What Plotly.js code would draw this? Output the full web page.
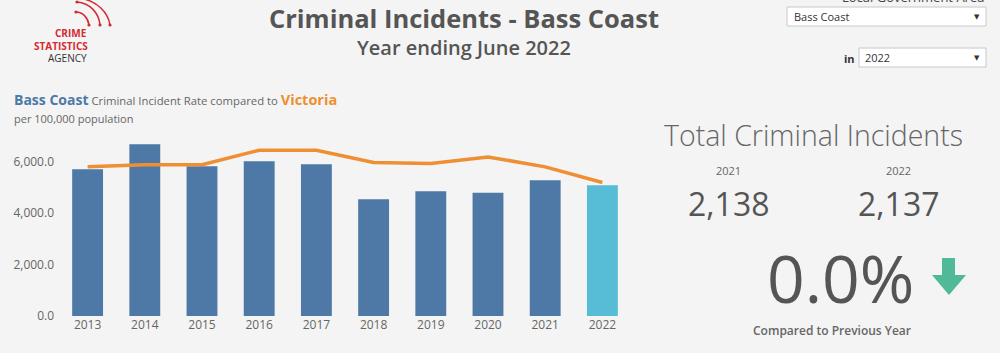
<!DOCTYPE html>
<html>
<head>
<meta charset="utf-8">
<script src="https://cdn.plot.ly/plotly-3.0.1.min.js"></script>
<style>
html,body{margin:0;padding:0;background:#f4f4f4;}
#chart{width:1000px;height:353px;}
</style>
</head>
<body>
<div id="chart"></div>
<script>
// ---- data ----
const years = ['2013','2014','2015','2016','2017','2018','2019','2020','2021','2022'];
const basscoastRate = [5709, 6680, 5825, 6019, 5903, 4544, 4854, 4789, 5282, 5087];
const victoriaRate = [5800, 5880, 5880, 6447, 6447, 5968, 5929, 6187, 5800, 5190];
const yTicks = [0, 2000, 4000, 6000];
const kpiYears = ['2021', '2022'];
const kpiTotals = [2138, 2137];

const W = 1000, H = 353;
const FONT = 'Open Sans, Noto Sans, DejaVu Sans, sans-serif';
const GREY = '#666666';
const selectedYear = '2022';
const barColors = years.map(y => y === selectedYear ? '#57bdd6' : '#4e79a7');

const pct = (kpiTotals[1] - kpiTotals[0]) / kpiTotals[0] * 100;
const fmt = n => n.toLocaleString('en-US');

const traces = [
  {type:'bar', x: years, y: basscoastRate, marker:{color: barColors}, width:0.54,
   hoverinfo:'x+y', xaxis:'x', yaxis:'y', showlegend:false},
  {type:'scatter', mode:'lines', x: years, y: victoriaRate,
   line:{color:'#ee8f33', width:3.5}, xaxis:'x', yaxis:'y', showlegend:false, hoverinfo:'x+y'},
  // overlay pixel-space subplot for decorations
  {type:'scatter', x:[0], y:[0], mode:'markers', marker:{opacity:0}, xaxis:'x2', yaxis:'y2',
   hoverinfo:'skip', showlegend:false}
];

function ann(text, x, y, size, color, opts) {
  return Object.assign({text: text, x: x, y: y, xref:'x2', yref:'y2', showarrow:false,
    xanchor:'center', yanchor:'middle',
    font:{family: FONT, size: size, color: color}}, opts || {});
}
function fw(size, color, weight) { return {family: FONT, size: size, color: color, weight: weight}; }

const annotations = [
  ann('Criminal Incidents - Bass Coast', 464, 17.5, 25.5, '#555555', {font:fw(25.5,'#555555',700)}),
  ann('Year ending June 2022', 464, 47, 20, '#555555', {font:fw(20,'#555555',600)}),
  // logo
  ann('CRIME', 89, 33, 10, '#d42a33', {xanchor:'right', font:fw(10,'#d42a33',700)}),
  ann('STATISTICS', 90, 46, 10, '#d42a33', {xanchor:'right', font:fw(10,'#d42a33',700)}),
  ann('AGENCY', 89, 58, 10, '#333333', {xanchor:'right'}),
  // subtitle of chart
  ann('<b><span style="color:#4e79a7;font-size:14px">Bass Coast</span></b> Criminal Incident Rate compared to <b><span style="color:#ee8f33;font-size:14.5px">Victoria</span></b>',
      12, 99, 11.3, GREY, {xanchor:'left'}),
  ann('per 100,000 population', 12, 118, 11, GREY, {xanchor:'left'}),
  // filters
  ann('Local Government Area', 986, 1, 13, '#444444', {xanchor:'right', yshift:4}),
  ann('Bass Coast', 792, 16.5, 11, '#333333', {xanchor:'left'}),
  ann('▼', 977, 16.5, 7, '#333333'),
  ann('<b>in</b>', 857, 58, 11, '#333333', {xanchor:'right'}),
  ann(selectedYear, 863, 57.5, 11, '#333333', {xanchor:'left'}),
  ann('▼', 977, 57.5, 7, '#333333'),
  // KPI
  ann('Total Criminal Incidents', 813, 135, 28.5, GREY, {font:fw(28.5,GREY,300)}),
  ann(kpiYears[0], 728, 170, 11, GREY),
  ann(kpiYears[1], 898, 170, 11, GREY),
  ann(fmt(kpiTotals[0]), 728, 203, 32, '#555555', {font:fw(32,'#555555',500)}),
  ann(fmt(kpiTotals[1]), 898, 203, 32, '#555555', {font:fw(32,'#555555',500)}),
  ann(Math.abs(pct).toFixed(1) + '%', 840, 277, 66, '#555555', {font:fw(66,'#555555',500)}),
  ann('Compared to Previous Year', 832, 330, 12, GREY, {font:fw(12,GREY,600)})
];

const red = '#d42a33';
const dot = (x, y) => ({type:'circle', xref:'x2', yref:'y2', x0:x-1.6, y0:y-1.6, x1:x+1.6, y1:y+1.6,
  fillcolor:red, line:{width:0}});
const shapes = [
  {type:'path', xref:'x2', yref:'y2', path:'M 84 -1 C 97 2, 108 12, 110 25', line:{color:red, width:1.5}},
  {type:'path', xref:'x2', yref:'y2', path:'M 77 2 C 90 3, 99 13, 100 25', line:{color:red, width:1.5}},
  {type:'path', xref:'x2', yref:'y2', path:'M 76 12 C 83 12, 88 18, 89 25', line:{color:red, width:1.5}},
  dot(77, 2), dot(76, 12), dot(89, 25), dot(100, 25), dot(110, 25),
  // dropdowns
  {type:'rect', xref:'x2', yref:'y2', x0:787, y0:7, x1:986, y1:26, fillcolor:'#ffffff', line:{color:'#c8c8c8', width:1}, layer:'below'},
  {type:'rect', xref:'x2', yref:'y2', x0:859, y0:48, x1:986, y1:67, fillcolor:'#ffffff', line:{color:'#c8c8c8', width:1}, layer:'below'},
  // down arrow
  {type:'path', xref:'x2', yref:'y2', path:'M 942 258 L 955 258 L 955 275 L 966 275 L 949 295 L 932 275 L 942 275 Z',
   fillcolor:'#50b997', line:{width:0}}
];

const layout = {
  width: W, height: H,
  margin:{l:0, r:0, t:0, b:0},
  paper_bgcolor:'#f4f4f4', plot_bgcolor:'rgba(0,0,0,0)',
  font:{family: FONT, color: GREY},
  showlegend:false,
  xaxis:{domain:[59/W, 631/W], anchor:'y', type:'category', showgrid:false, zeroline:false,
         showline:false, ticks:'', tickfont:{size:12, color:GREY}, fixedrange:true},
  yaxis:{domain:[(H-316)/H, (H-136)/H], anchor:'x', range:[0, 7000], showgrid:false, zeroline:false,
         showline:false, tickvals:yTicks, tickformat:',.1f', ticks:'', tickfont:{size:12, color:GREY},
         ticklabelstandoff:4, fixedrange:true},
  xaxis2:{domain:[0,1], anchor:'y2', range:[0, W], visible:false, fixedrange:true},
  yaxis2:{domain:[0,1], anchor:'x2', range:[H, 0], visible:false, fixedrange:true},
  annotations: annotations,
  shapes: shapes
};

Plotly.newPlot('chart', traces, layout, {displayModeBar:false, staticPlot:true});
</script>
</body>
</html>
